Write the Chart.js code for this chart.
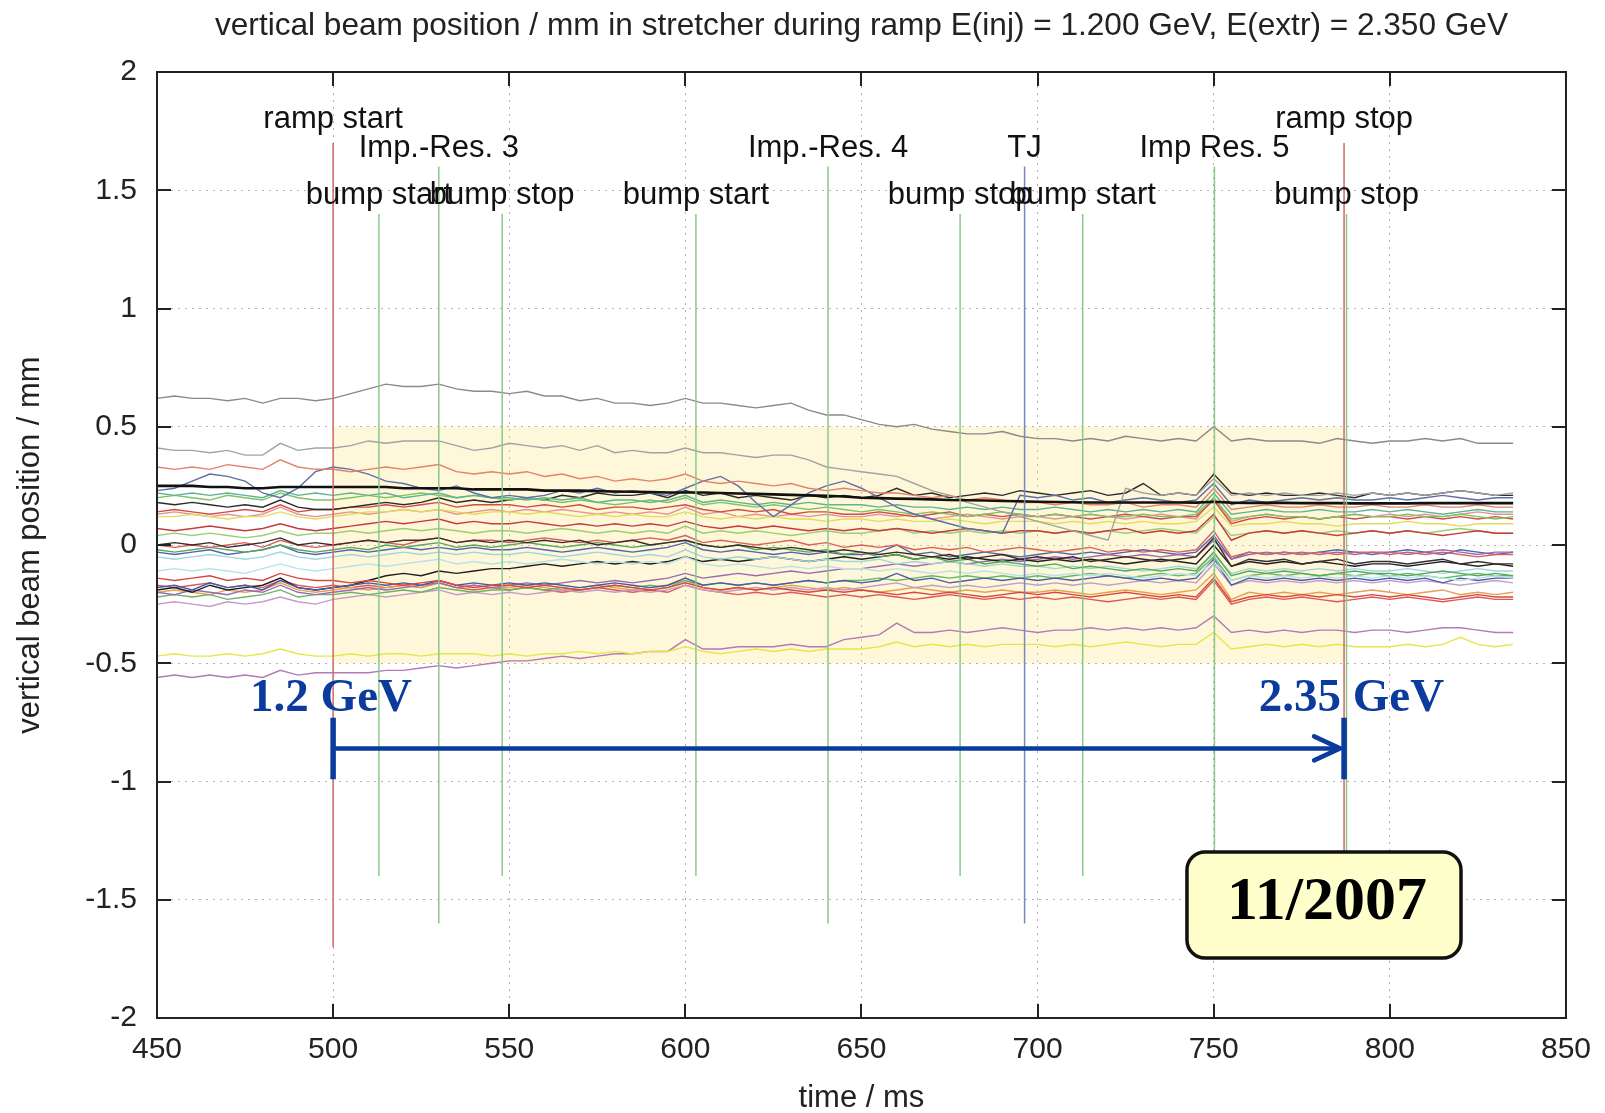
<!DOCTYPE html>
<html>
<head>
<meta charset="utf-8">
<title>vertical beam position</title>
<script src="https://cdn.jsdelivr.net/npm/chart.js@4.4.1/dist/chart.umd.min.js"></script>
<style>
  html, body { margin: 0; padding: 0; background: #fff; }
  canvas { display: block; }
</style>
</head>
<body>
<canvas id="chart" width="1605" height="1113"></canvas>
<script>
// time axis (ms)
const times = [
  450,455,460,465,470,475,480,485,490,495,
  500,505,510,515,520,525,530,535,540,545,
  550,555,560,565,570,575,580,585,590,595,
  600,605,610,615,620,625,630,635,640,645,
  650,655,660,665,670,675,680,685,690,695,
  700,705,710,715,720,725,730,735,740,745,
  750,755,760,765,770,775,780,785,790,795,
  800,805,810,815,820,825,830,835
];

// vertical beam position / mm, one array per BPM trace
const trace01 = [
  .62,.63,.62,.62,.61,.62,.60,.62,.62,.61,
  .62,.64,.66,.68,.67,.67,.68,.66,.65,.65,
  .64,.65,.63,.63,.61,.62,.60,.60,.59,.60,
  .62,.60,.60,.59,.58,.59,.60,.57,.55,.55,
  .53,.51,.50,.51,.49,.48,.47,.47,.48,.46,
  .45,.45,.44,.45,.44,.46,.45,.44,.45,.44,
  .50,.44,.45,.44,.44,.44,.43,.45,.44,.43,
  .44,.44,.45,.44,.45,.43,.43,.43
];
const trace02 = [
  .41,.40,.40,.39,.40,.38,.38,.43,.40,.41,
  .41,.42,.44,.43,.44,.44,.44,.42,.40,.41,
  .43,.42,.41,.42,.40,.42,.39,.40,.39,.39,
  .41,.39,.39,.38,.37,.38,.38,.36,.33,.32,
  .31,.30,.29,.26,.23,.21,.18,.16,.14,.12,
  .10,.08,.06,.04,.02,.24,.22,.21,.22,.21,
  .28,.21,.22,.21,.22,.21,.21,.22,.21,.22,
  .21,.22,.21,.22,.23,.22,.21,.22
];
const trace03 = [
  .33,.32,.33,.32,.34,.33,.32,.36,.33,.32,
  .32,.31,.32,.33,.32,.33,.34,.31,.30,.31,
  .30,.31,.29,.30,.28,.29,.27,.28,.27,.28,
  .30,.27,.26,.27,.26,.25,.26,.24,.23,.24,
  .23,.22,.22,.21,.20,.21,.19,.20,.19,.18,
  .18,.17,.18,.17,.17,.18,.16,.17,.17,.16,
  .24,.15,.16,.17,.16,.16,.17,.16,.16,.17,
  .16,.16,.17,.16,.16,.17,.16,.16
];
const trace04 = [
  .25,.25,.25,.245,.245,.24,.24,.245,.245,.245,
  .245,.245,.245,.245,.24,.24,.24,.24,.235,.235,
  .235,.235,.23,.23,.23,.228,.226,.225,.224,.222,
  .222,.222,.22,.218,.216,.214,.212,.21,.208,.205,
  .20,.198,.196,.195,.193,.19,.189,.188,.186,.185,
  .183,.182,.181,.18,.18,.18,.18,.18,.18,.179,
  .183,.179,.178,.178,.178,.177,.177,.177,.176,.176,
  .176,.176,.177,.177,.177,.177,.177,.177
];
const trace05 = [
  .23,.24,.27,.30,.29,.27,.22,.20,.24,.31,
  .33,.32,.30,.27,.26,.24,.23,.25,.22,.20,
  .21,.20,.21,.23,.22,.24,.22,.23,.22,.21,
  .24,.27,.29,.25,.18,.12,.17,.22,.25,.27,
  .24,.20,.16,.13,.11,.09,.07,.06,.05,.21,
  .20,.21,.19,.20,.18,.19,.20,.19,.18,.19,
  .26,.17,.19,.18,.19,.20,.19,.20,.19,.19,
  .20,.19,.20,.21,.20,.19,.20,.20
];
const trace06 = [
  .22,.21,.22,.21,.22,.21,.20,.23,.21,.22,
  .21,.22,.21,.22,.20,.21,.22,.20,.21,.20,
  .20,.19,.20,.19,.20,.18,.19,.19,.18,.19,
  .21,.18,.19,.18,.17,.18,.17,.18,.17,.17,
  .17,.16,.17,.16,.16,.15,.16,.15,.16,.15,
  .15,.16,.15,.14,.15,.14,.15,.14,.15,.14,
  .22,.13,.14,.15,.14,.14,.15,.14,.14,.15,
  .14,.15,.14,.13,.14,.15,.14,.14
];
const trace07 = [
  .20,.21,.20,.19,.21,.20,.19,.22,.20,.19,
  .19,.20,.21,.20,.21,.22,.21,.20,.21,.20,
  .19,.20,.19,.18,.19,.18,.17,.18,.19,.18,
  .20,.17,.18,.17,.16,.17,.16,.15,.16,.15,
  .14,.15,.14,.13,.14,.13,.12,.13,.14,.13,
  .12,.13,.12,.13,.12,.12,.13,.12,.12,.13,
  .20,.11,.12,.13,.12,.12,.11,.12,.13,.12,
  .12,.13,.12,.12,.13,.12,.11,.12
];
const trace08 = [
  .18,.17,.18,.17,.16,.17,.16,.19,.16,.15,
  .15,.16,.17,.18,.17,.18,.20,.18,.19,.18,
  .19,.20,.19,.21,.20,.22,.21,.21,.22,.20,
  .23,.21,.22,.20,.21,.20,.19,.21,.20,.21,
  .20,.21,.24,.21,.22,.20,.21,.22,.21,.23,
  .22,.21,.22,.23,.21,.22,.26,.21,.22,.21,
  .30,.22,.21,.22,.21,.21,.22,.21,.20,.22,
  .21,.22,.21,.22,.23,.22,.21,.21
];
const trace09 = [
  .14,.15,.14,.13,.14,.15,.14,.17,.14,.15,
  .15,.16,.16,.17,.16,.17,.18,.16,.17,.17,
  .17,.16,.17,.16,.17,.15,.16,.16,.15,.16,
  .17,.15,.14,.15,.14,.15,.13,.14,.14,.13,
  .13,.14,.13,.12,.13,.14,.12,.13,.12,.13,
  .12,.13,.12,.11,.12,.13,.12,.11,.12,.12,
  .19,.09,.11,.12,.11,.12,.11,.12,.11,.12,
  .12,.11,.12,.11,.12,.11,.12,.11
];
const trace10 = [
  .12,.12,.13,.12,.11,.12,.12,.14,.12,.11,
  .12,.13,.14,.14,.15,.14,.15,.14,.13,.14,
  .14,.13,.14,.13,.12,.13,.12,.13,.12,.12,
  .14,.12,.11,.12,.11,.12,.11,.11,.10,.11,
  .11,.10,.11,.10,.10,.11,.10,.09,.10,.10,
  .10,.09,.10,.09,.10,.09,.10,.09,.09,.10,
  .16,.08,.09,.09,.10,.09,.09,.08,.09,.09,
  .09,.10,.09,.09,.08,.09,.09,.09
];
const trace11 = [
  .13,.14,.13,.12,.13,.12,.13,.16,.13,.12,
  .13,.14,.13,.14,.15,.14,.15,.13,.14,.15,
  .14,.15,.14,.15,.14,.13,.14,.13,.14,.13,
  .16,.13,.14,.12,.13,.12,.13,.12,.13,.12,
  .12,.13,.12,.13,.11,.12,.13,.12,.11,.12,
  .12,.11,.12,.13,.12,.11,.12,.13,.12,.11,
  .20,.10,.12,.13,.12,.12,.11,.12,.13,.12,
  .13,.12,.13,.12,.13,.14,.13,.13
];
const trace12 = [
  .07,.06,.07,.08,.07,.06,.07,.09,.07,.06,
  .07,.08,.09,.10,.09,.10,.11,.09,.10,.09,
  .09,.10,.09,.08,.09,.08,.09,.08,.09,.08,
  .10,.08,.07,.08,.07,.08,.07,.06,.07,.06,
  .07,.06,.07,.06,.05,.06,.07,.06,.05,.06,
  .06,.05,.06,.05,.06,.07,.05,.06,.05,.06,
  .13,.02,.05,.06,.05,.06,.05,.04,.05,.06,
  .05,.06,.05,.04,.05,.06,.05,.05
];
const trace13 = [
  .00,.01,.00,.01,-.01,.00,.01,.03,.00,.01,
  .00,.01,.02,.01,.02,.02,.03,.01,.02,.01,
  .02,.01,.02,.01,.02,.00,.01,.02,.00,.01,
  .02,.00,-.01,.00,-.01,-.02,-.01,-.02,-.03,-.02,
  -.03,-.04,-.03,-.04,-.05,-.04,-.06,-.05,-.04,-.06,
  -.05,-.06,-.05,-.07,-.06,-.05,-.06,-.07,-.06,-.05,
  .03,-.09,-.06,-.07,-.06,-.08,-.07,-.06,-.08,-.07,
  -.07,-.08,-.07,-.06,-.08,-.07,-.08,-.08
];
const trace14 = [
  .00,-.01,.00,-.01,.00,.01,-.01,.02,.00,-.01,
  .00,.01,.02,.01,.00,.02,.03,.01,.02,.02,
  .01,.02,.03,.02,.01,.02,.01,.02,.03,.02,
  .04,.01,.02,.01,.00,.01,.02,.00,.01,-.01,
  .00,-.01,.00,-.02,-.01,-.02,-.01,-.03,-.02,-.01,
  -.02,-.03,-.02,-.01,-.03,-.02,-.03,-.02,-.03,-.02,
  .06,-.05,-.03,-.04,-.03,-.04,-.03,-.04,-.03,-.03,
  -.04,-.03,-.04,-.03,-.04,-.05,-.04,-.04
];
const trace15 = [
  -.02,-.03,-.02,-.01,-.02,-.03,-.02,.00,-.02,-.03,
  -.02,-.01,-.02,.00,-.01,.00,.01,-.01,.00,-.01,
  .00,.01,.00,-.01,.00,.01,.00,-.01,.00,.01,
  .02,.00,-.01,.00,-.02,-.01,-.02,-.03,-.02,-.04,
  -.03,-.05,-.04,-.06,-.05,-.07,-.06,-.08,-.07,-.08,
  -.09,-.08,-.10,-.09,-.10,-.11,-.10,-.11,-.10,-.11,
  -.03,-.13,-.11,-.12,-.11,-.12,-.13,-.12,-.11,-.12,
  -.12,-.13,-.12,-.11,-.12,-.13,-.12,-.13
];
const trace16 = [
  -.05,-.06,-.05,-.04,-.05,-.06,-.05,-.03,-.05,-.06,
  -.05,-.04,-.05,-.04,-.03,-.04,-.03,-.04,-.03,-.04,
  -.04,-.03,-.04,-.05,-.04,-.03,-.04,-.05,-.04,-.05,
  -.02,-.05,-.06,-.05,-.06,-.05,-.06,-.07,-.06,-.07,
  -.07,-.06,-.08,-.07,-.08,-.07,-.08,-.09,-.08,-.09,
  -.09,-.10,-.09,-.10,-.09,-.10,-.11,-.10,-.09,-.10,
  -.04,-.12,-.10,-.11,-.10,-.11,-.10,-.11,-.10,-.11,
  -.11,-.10,-.11,-.12,-.11,-.10,-.11,-.11
];
const trace17 = [
  -.11,-.10,-.11,-.10,-.11,-.12,-.10,-.08,-.10,-.11,
  -.10,-.09,-.08,-.09,-.08,-.07,-.06,-.08,-.07,-.08,
  -.07,-.08,-.07,-.06,-.07,-.08,-.07,-.08,-.07,-.08,
  -.05,-.08,-.09,-.08,-.09,-.10,-.09,-.10,-.09,-.10,
  -.10,-.11,-.10,-.11,-.12,-.11,-.12,-.11,-.12,-.13,
  -.12,-.13,-.12,-.13,-.12,-.13,-.14,-.13,-.12,-.13,
  -.07,-.15,-.13,-.14,-.13,-.14,-.13,-.14,-.13,-.14,
  -.13,-.14,-.13,-.14,-.15,-.14,-.13,-.14
];
const trace18 = [
  -.14,-.15,-.14,-.13,-.15,-.14,-.15,-.12,-.14,-.15,
  -.15,-.16,-.15,-.16,-.17,-.16,-.15,-.17,-.18,-.17,
  -.17,-.18,-.17,-.18,-.19,-.18,-.17,-.18,-.19,-.18,
  -.16,-.18,-.19,-.18,-.19,-.18,-.19,-.20,-.19,-.20,
  -.19,-.20,-.21,-.20,-.21,-.20,-.21,-.22,-.21,-.20,
  -.21,-.20,-.21,-.22,-.21,-.20,-.21,-.22,-.21,-.22,
  -.14,-.24,-.22,-.21,-.22,-.21,-.22,-.21,-.22,-.21,
  -.22,-.21,-.22,-.23,-.22,-.21,-.22,-.22
];
const trace19 = [
  -.18,-.17,-.19,-.16,-.18,-.17,-.19,-.15,-.18,-.19,
  -.18,-.17,-.16,-.17,-.16,-.17,-.15,-.17,-.16,-.17,
  -.16,-.17,-.16,-.17,-.18,-.17,-.16,-.17,-.18,-.17,
  -.14,-.17,-.16,-.17,-.16,-.17,-.16,-.15,-.16,-.15,
  -.16,-.15,-.12,-.15,-.14,-.16,-.15,-.14,-.15,-.14,
  -.15,-.14,-.15,-.14,-.13,-.14,-.15,-.14,-.15,-.14,
  -.06,-.17,-.14,-.15,-.14,-.15,-.14,-.15,-.14,-.15,
  -.14,-.15,-.14,-.16,-.14,-.15,-.14,-.14
];
const trace20 = [
  -.19,-.18,-.20,-.17,-.19,-.18,-.17,-.14,-.18,-.19,
  -.18,-.17,-.15,-.13,-.12,-.13,-.11,-.12,-.11,-.10,
  -.10,-.09,-.08,-.09,-.08,-.07,-.08,-.07,-.08,-.07,
  -.05,-.07,-.06,-.07,-.06,-.05,-.06,-.07,-.06,-.05,
  -.06,-.05,-.04,-.06,-.05,-.06,-.05,-.06,-.07,-.06,
  -.07,-.06,-.07,-.06,-.07,-.08,-.07,-.06,-.07,-.08,
  .00,-.09,-.07,-.08,-.07,-.08,-.07,-.08,-.09,-.08,
  -.08,-.09,-.08,-.07,-.08,-.09,-.08,-.09
];
const trace21 = [
  -.20,-.21,-.19,-.20,-.21,-.19,-.20,-.17,-.20,-.21,
  -.20,-.19,-.18,-.19,-.18,-.17,-.16,-.18,-.17,-.18,
  -.17,-.16,-.17,-.16,-.15,-.16,-.15,-.16,-.15,-.14,
  -.12,-.14,-.13,-.12,-.13,-.12,-.11,-.12,-.11,-.10,
  -.10,-.09,-.08,-.09,-.08,-.07,-.08,-.07,-.06,-.07,
  -.06,-.05,-.06,-.05,-.04,-.05,-.04,-.05,-.04,-.05,
  .02,-.06,-.04,-.03,-.04,-.03,-.04,-.03,-.04,-.03,
  -.03,-.04,-.03,-.02,-.03,-.04,-.03,-.03
];
const trace22 = [
  -.22,-.21,-.22,-.21,-.23,-.22,-.21,-.19,-.22,-.21,
  -.21,-.20,-.21,-.20,-.19,-.20,-.18,-.19,-.20,-.19,
  -.19,-.18,-.19,-.18,-.19,-.18,-.17,-.18,-.17,-.18,
  -.15,-.17,-.16,-.17,-.16,-.17,-.16,-.15,-.16,-.15,
  -.15,-.14,-.15,-.14,-.13,-.14,-.13,-.14,-.13,-.14,
  -.13,-.14,-.13,-.12,-.13,-.14,-.13,-.12,-.13,-.12,
  -.05,-.15,-.13,-.12,-.13,-.12,-.13,-.12,-.13,-.12,
  -.13,-.12,-.13,-.14,-.13,-.12,-.13,-.13
];
const trace23 = [
  -.25,-.24,-.25,-.26,-.24,-.25,-.24,-.22,-.24,-.25,
  -.23,-.22,-.21,-.22,-.21,-.20,-.19,-.21,-.20,-.21,
  -.20,-.21,-.20,-.19,-.20,-.19,-.20,-.19,-.20,-.19,
  -.17,-.19,-.20,-.19,-.18,-.19,-.18,-.19,-.18,-.19,
  -.18,-.17,-.16,-.18,-.17,-.18,-.17,-.18,-.17,-.16,
  -.17,-.16,-.17,-.16,-.17,-.16,-.15,-.16,-.15,-.16,
  -.08,-.17,-.15,-.16,-.15,-.16,-.15,-.16,-.15,-.16,
  -.15,-.16,-.15,-.16,-.17,-.16,-.15,-.16
];
const trace24 = [
  -.20,-.19,-.20,-.21,-.19,-.20,-.19,-.16,-.19,-.20,
  -.19,-.18,-.19,-.18,-.17,-.18,-.16,-.18,-.17,-.18,
  -.18,-.17,-.18,-.19,-.18,-.17,-.18,-.19,-.18,-.17,
  -.15,-.18,-.19,-.18,-.19,-.18,-.17,-.18,-.19,-.18,
  -.19,-.20,-.19,-.18,-.19,-.20,-.19,-.20,-.19,-.20,
  -.20,-.19,-.20,-.21,-.20,-.19,-.20,-.21,-.20,-.19,
  -.12,-.23,-.20,-.21,-.20,-.21,-.20,-.21,-.20,-.19,
  -.20,-.21,-.20,-.19,-.21,-.20,-.21,-.20
];
const trace25 = [
  -.17,-.18,-.17,-.16,-.18,-.17,-.18,-.15,-.17,-.18,
  -.17,-.18,-.17,-.18,-.17,-.18,-.16,-.18,-.19,-.18,
  -.19,-.18,-.19,-.20,-.19,-.18,-.19,-.20,-.19,-.20,
  -.17,-.19,-.20,-.21,-.20,-.21,-.20,-.21,-.22,-.21,
  -.22,-.21,-.22,-.23,-.22,-.21,-.22,-.23,-.22,-.23,
  -.22,-.23,-.22,-.23,-.24,-.23,-.22,-.23,-.22,-.23,
  -.15,-.25,-.23,-.22,-.23,-.22,-.23,-.24,-.23,-.22,
  -.23,-.22,-.23,-.24,-.23,-.22,-.23,-.23
];
const trace26 = [
  -.47,-.46,-.47,-.47,-.46,-.47,-.46,-.44,-.46,-.47,
  -.47,-.46,-.47,-.46,-.46,-.47,-.46,-.46,-.46,-.47,
  -.46,-.47,-.46,-.46,-.45,-.46,-.45,-.46,-.45,-.45,
  -.43,-.45,-.46,-.45,-.44,-.45,-.44,-.45,-.44,-.44,
  -.44,-.43,-.41,-.43,-.42,-.43,-.42,-.43,-.42,-.42,
  -.42,-.43,-.42,-.43,-.42,-.41,-.42,-.43,-.42,-.42,
  -.37,-.44,-.43,-.42,-.43,-.42,-.43,-.42,-.43,-.43,
  -.43,-.42,-.43,-.42,-.39,-.42,-.43,-.42
];
const trace27 = [
  -.56,-.55,-.56,-.55,-.56,-.55,-.56,-.53,-.55,-.54,
  -.54,-.54,-.54,-.53,-.53,-.52,-.51,-.52,-.51,-.50,
  -.49,-.49,-.48,-.47,-.48,-.47,-.46,-.46,-.45,-.45,
  -.40,-.44,-.44,-.43,-.43,-.43,-.42,-.43,-.43,-.40,
  -.39,-.38,-.33,-.37,-.37,-.36,-.37,-.36,-.35,-.36,
  -.37,-.36,-.36,-.35,-.36,-.35,-.36,-.35,-.36,-.35,
  -.30,-.37,-.36,-.37,-.36,-.37,-.36,-.36,-.37,-.36,
  -.36,-.37,-.36,-.35,-.35,-.36,-.37,-.37
];
const trace28 = [
  .04,.05,.04,.05,.04,.03,.04,.06,.04,.05,
  .05,.06,.05,.06,.07,.06,.07,.06,.05,.06,
  .06,.05,.06,.07,.06,.05,.06,.05,.06,.05,
  .08,.05,.06,.05,.06,.05,.04,.05,.06,.05,
  .05,.06,.07,.05,.06,.05,.06,.05,.06,.05,
  .06,.05,.06,.05,.06,.05,.06,.07,.06,.05,
  .12,.04,.05,.06,.05,.06,.05,.06,.05,.06,
  .05,.06,.05,.06,.07,.06,.05,.05
];
const trace29 = [
  -.03,-.04,-.03,-.02,-.04,-.03,-.02,.00,-.03,-.04,
  -.03,-.02,-.03,-.02,-.01,-.02,-.01,-.02,-.01,-.02,
  -.02,-.01,-.02,-.03,-.02,-.01,-.02,-.03,-.02,-.01,
  .01,-.02,-.03,-.02,-.03,-.04,-.03,-.04,-.03,-.04,
  -.04,-.03,.00,-.04,-.03,-.05,-.04,-.03,-.04,-.05,
  -.04,-.03,-.04,-.03,-.04,-.03,-.02,-.03,-.04,-.03,
  .04,-.06,-.03,-.04,-.03,-.04,-.03,-.02,-.03,-.04,
  -.03,-.02,-.03,-.04,-.02,-.03,-.04,-.03
];

const traces = [trace01, trace02, trace03, trace04, trace05, trace06, trace07, trace08, trace09, trace10,
  trace11, trace12, trace13, trace14, trace15, trace16, trace17, trace18, trace19, trace20,
  trace21, trace22, trace23, trace24, trace25, trace26, trace27, trace28, trace29];
const traceColors = ['#8a8a8a', '#a2a2a2', '#e4826a', '#111111', '#5d6fa6', '#5fb38f', '#7cc466', '#2b2b2b',
  '#d44a44', '#e2dc56', '#e49494', '#c63b3b', '#3b2b2b', '#d9605a', '#56a85a', '#9fd6dc', '#b6e2ea',
  '#d6483e', '#4a5aa8', '#1f1f1f', '#9a6ab0', '#66b666', '#c39cc8', '#e6a055', '#e05555', '#e6e64a',
  '#b27ab8', '#9ccf72', '#5263b2'];

// event markers (ms)
const markerTimes = [500, 513, 530, 548, 603, 640.5, 678, 696.3, 712.8, 750.2, 787, 787.7];
const markerLabels = ['ramp start', 'bump start', 'Imp.-Res. 3', 'bump stop', 'bump start', 'Imp.-Res. 4',
  'bump stop', 'TJ', 'bump start', 'Imp Res. 5', 'ramp stop', 'bump stop'];
const markerKinds = ['ramp', 'bump', 'imp', 'bump', 'bump', 'imp', 'bump', 'tj', 'bump', 'imp', 'ramp', 'bump'];
const markerTop = { ramp: 1.7, imp: 1.6, tj: 1.6, bump: 1.4 };
const markerLabelY = { ramp: 1.762, imp: 1.64, tj: 1.64, bump: 1.442 };
const markerColor = { ramp: '#cf6a66', imp: '#8bc98b', tj: '#7886c4', bump: '#8bc98b' };

// ramp window and energy arrow
const rampWindow = [500, 787];
const rampBand = [-0.5, 0.5];
const arrowLevel = -0.86;
const energyLabels = ['1.2 GeV', '2.35 GeV'];
const energyLabelX = [499.4, 789.1];
const energyLabelY = -0.70;
const dateLabel = '11/2007';
const dateBoxX = [742.4, 820.2];
const dateBoxY = [-1.298, -1.746];

const SANS = '"Liberation Sans", Arial, Helvetica, sans-serif';
const SERIF = '"Liberation Serif", "Times New Roman", serif';
const BLUE = '#0b3b9c';

const datasets = [];
traces.forEach((vals, i) => {
  datasets.push({
    data: times.map((t, k) => ({ x: t, y: vals[k] })),
    borderColor: traceColors[i],
    borderWidth: i === 3 ? 2.6 : 1.4,
    pointRadius: 0,
    fill: false,
    order: i === 3 ? 5 : 10
  });
});
markerTimes.forEach((t, i) => {
  const top = markerTop[markerKinds[i]];
  datasets.push({
    data: [{ x: t, y: top }, { x: t, y: -top }],
    borderColor: markerColor[markerKinds[i]],
    borderWidth: 1.5,
    pointRadius: 0,
    fill: false,
    order: 2
  });
});
datasets.push({
  data: [{ x: rampWindow[0], y: rampBand[1] }, { x: rampWindow[1], y: rampBand[1] }],
  borderWidth: 0,
  borderColor: 'rgba(0,0,0,0)',
  backgroundColor: 'rgba(255, 226, 120, 0.28)',
  pointRadius: 0,
  fill: { value: rampBand[0] },
  order: 100
});

const extras = {
  id: 'extras',
  afterDraw(chart) {
    const { ctx, chartArea: a, scales: { x, y } } = chart;
    ctx.save();

    // frame and inward ticks
    ctx.strokeStyle = '#222';
    ctx.lineWidth = 2;
    ctx.strokeRect(a.left, a.top, a.right - a.left, a.bottom - a.top);
    ctx.beginPath();
    x.ticks.forEach(t => {
      const px = Math.round(x.getPixelForValue(t.value));
      ctx.moveTo(px, a.bottom); ctx.lineTo(px, a.bottom - 14);
      ctx.moveTo(px, a.top); ctx.lineTo(px, a.top + 14);
    });
    y.ticks.forEach(t => {
      const py = Math.round(y.getPixelForValue(t.value));
      ctx.moveTo(a.left, py); ctx.lineTo(a.left + 14, py);
      ctx.moveTo(a.right, py); ctx.lineTo(a.right - 14, py);
    });
    ctx.stroke();

    // titles
    ctx.fillStyle = '#222';
    ctx.textAlign = 'center';
    ctx.textBaseline = 'alphabetic';
    ctx.font = '31.6px ' + SANS;
    ctx.fillText('vertical beam position / mm in stretcher during ramp E(inj) = 1.200 GeV, E(extr) = 2.350 GeV',
      (a.left + a.right) / 2, 35);
    ctx.font = '31px ' + SANS;
    ctx.fillText('time / ms', (a.left + a.right) / 2, 1107);
    ctx.save();
    ctx.translate(39, (a.top + a.bottom) / 2);
    ctx.rotate(-Math.PI / 2);
    ctx.fillText('vertical beam position / mm', 0, 0);
    ctx.restore();

    // marker labels
    ctx.fillStyle = '#111';
    markerTimes.forEach((t, i) => {
      ctx.fillText(markerLabels[i], x.getPixelForValue(t), y.getPixelForValue(markerLabelY[markerKinds[i]]));
    });

    // energy arrow
    const x1 = x.getPixelForValue(rampWindow[0]);
    const x2 = x.getPixelForValue(rampWindow[1]);
    const ya = y.getPixelForValue(arrowLevel);
    ctx.strokeStyle = BLUE;
    ctx.lineCap = 'round';
    ctx.lineJoin = 'round';
    ctx.lineWidth = 4.5;
    ctx.beginPath();
    ctx.moveTo(x1, ya); ctx.lineTo(x2 - 4, ya);
    ctx.moveTo(x2 - 30, ya - 12); ctx.lineTo(x2 - 4, ya); ctx.lineTo(x2 - 30, ya + 12);
    ctx.stroke();
    ctx.lineCap = 'butt';
    ctx.lineWidth = 5.5;
    ctx.beginPath();
    ctx.moveTo(x1, y.getPixelForValue(arrowLevel + 0.13)); ctx.lineTo(x1, y.getPixelForValue(arrowLevel - 0.13));
    ctx.moveTo(x2, y.getPixelForValue(arrowLevel + 0.13)); ctx.lineTo(x2, y.getPixelForValue(arrowLevel - 0.13));
    ctx.stroke();
    ctx.fillStyle = BLUE;
    ctx.font = 'bold 47px ' + SERIF;
    energyLabels.forEach((s, i) => {
      ctx.fillText(s, x.getPixelForValue(energyLabelX[i]), y.getPixelForValue(energyLabelY));
    });

    // date box
    const bx = x.getPixelForValue(dateBoxX[0]);
    const bw = x.getPixelForValue(dateBoxX[1]) - bx;
    const by = y.getPixelForValue(dateBoxY[0]);
    const bh = y.getPixelForValue(dateBoxY[1]) - by;
    ctx.beginPath();
    ctx.roundRect(bx, by, bw, bh, 18);
    ctx.fillStyle = '#ffffcc';
    ctx.fill();
    ctx.lineWidth = 3.5;
    ctx.strokeStyle = '#111';
    ctx.stroke();
    ctx.fillStyle = '#000';
    ctx.font = 'bold 62px ' + SERIF;
    ctx.textBaseline = 'middle';
    ctx.fillText(dateLabel, bx + bw / 2 + 3, by + bh / 2 - 2);

    ctx.restore();
  }
};

new Chart(document.getElementById('chart'), {
  type: 'line',
  data: { datasets },
  options: {
    responsive: false,
    animation: false,
    layout: { padding: { top: 72, right: 39, left: 0, bottom: 0 } },
    plugins: { legend: { display: false }, tooltip: { enabled: false } },
    scales: {
      x: {
        type: 'linear',
        min: 450,
        max: 850,
        afterFit: s => { s.height = 95; },
        border: { display: false, dash: [2, 5] },
        grid: { color: '#b0b0b0', drawTicks: false, lineWidth: 1 },
        ticks: { stepSize: 50, padding: 14, color: '#222', autoSkip: false, maxRotation: 0,
          font: { size: 30, family: SANS } }
      },
      y: {
        min: -2,
        max: 2,
        afterFit: s => { s.width = 157; },
        border: { display: false, dash: [2, 5] },
        grid: { color: '#b0b0b0', drawTicks: false, lineWidth: 1 },
        ticks: { stepSize: 0.5, padding: 20, color: '#222',
          font: { size: 30, family: SANS },
          callback: v => String(Number(v.toFixed(1))) }
      }
    }
  },
  plugins: [extras]
});
</script>
</body>
</html>
